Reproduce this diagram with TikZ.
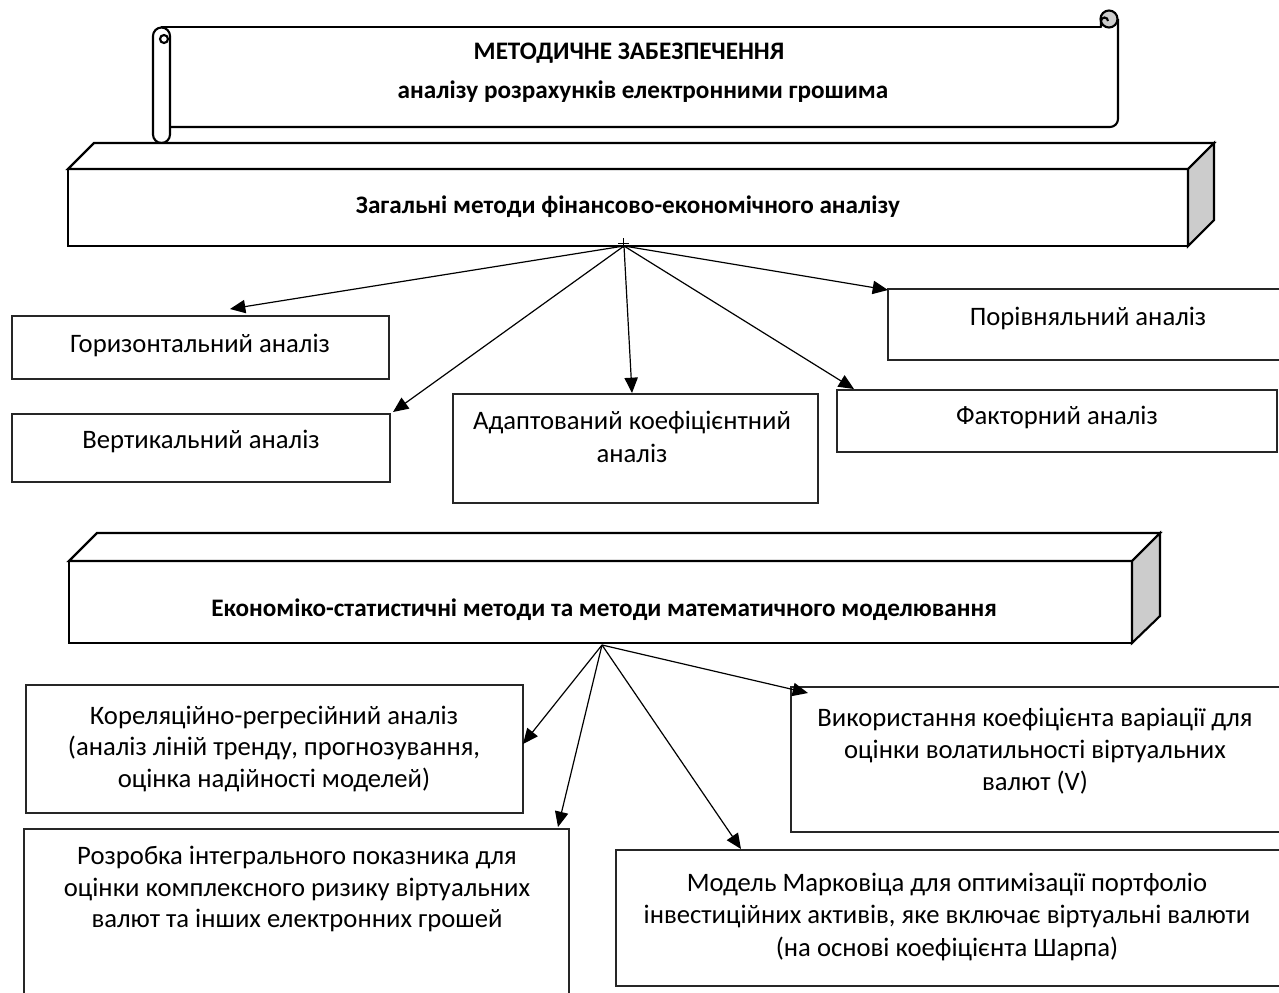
\documentclass[tikz,border=0pt]{standalone}
\usepackage{fontspec}
\setmainfont{Carlito}
\usetikzlibrary{arrows.meta,fit}
\begin{document}
\begin{tikzpicture}[x=0.75pt,y=-0.75pt]
\tikzset{
  heavy/.style={line width=1.6pt, line join=miter},
  sidefill/.style={fill=black!20},
  plainbox/.style={draw=black!85, line width=0.9pt, rectangle, inner sep=0pt},
  txt/.style={font=\fontsize{20}{23.6}\selectfont, align=center, inner sep=0pt},
  txtw/.style={font=\fontsize{20}{24.2}\selectfont, align=center, inner sep=0pt},
  ttl/.style={font=\bfseries\fontsize{18.9}{22}\selectfont, inner sep=0pt},
  arr/.style={line width=0.9pt, -{Triangle[length=11.5pt,width=10pt]}},
}
\useasboundingbox (0,0) rectangle (1279,993);

% ---------- scroll banner ----------
\draw[heavy, line cap=round] (161.5,27) -- (1101,27);
\draw[heavy] (153,36) -- (153,134.5) arc(180:0:8.5) -- (170,36) arc(0:-180:8.5);
\draw[heavy] (164,39) circle (4);
\draw[heavy] (170,127) -- (1110,127) arc(90:0:8) -- (1118,19);
\draw[heavy, sidefill] (1109,19) circle (8.5);
\draw[heavy] (1101,27) -- (1101,21) arc(180:360:3.5);
\node[ttl] (t1) at (629,53) {МЕТОДИЧНЕ ЗАБЕЗПЕЧЕННЯ};
\node[ttl] (t2) at (643,92) {аналізу розрахунків електронними грошима};

% ---------- 3D box 1 ----------
\draw[heavy, fill=white] (68,169) -- (94,143) -- (1214,143) -- (1188,169) -- cycle;
\draw[heavy, sidefill] (1188,169) -- (1214,143) -- (1214,220) -- (1188,246) -- cycle;
\node[heavy, draw, fit={(68,169)(1188,246)}, inner sep=0pt] (g1) {};
\node[ttl] (g1t) at (628,207) {Загальні методи фінансово-економічного аналізу};

% ---------- first group boxes ----------
\node[plainbox, fit={(12,316)(389,379)}] (hor) {};
\node[txt] at (200,345) {Горизонтальний аналіз};
\node[plainbox, fit={(12,414)(390,482)}] (ver) {};
\node[txt] at (201,441) {Вертикальний аналіз};
\node[plainbox, fit={(453,394)(818,503)}] (ada) {};
\node[txtw] at (632,437) {Адаптований коефіцієнтний\\аналіз};
\node[plainbox, fit={(837,390)(1277,452)}] (fak) {};
\node[txt] at (1057,417) {Факторний аналіз};
\node[plainbox, fit={(888,289)(1284,360)}] (por) {};
\node[txt] at (1088,318) {Порівняльний аналіз};

\coordinate (o1) at (624,246);
\draw[line width=0.6pt] (618,243) -- (629,243) (623.5,238) -- (623.5,248);
\coordinate (hortip) at (230,309);
\coordinate (vertip) at (393,412);
\coordinate (adatip) at (632,393);
\coordinate (faktip) at (854,389);
\coordinate (portip) at (888,290);
\draw[arr] (o1) -- (hortip);
\draw[arr] (o1) -- (vertip);
\draw[arr] (o1) -- (adatip);
\draw[arr] (o1) -- (faktip);
\draw[arr] (o1) -- (portip);

% ---------- 3D box 2 ----------
\draw[heavy, fill=white] (69,561) -- (97,533) -- (1160,533) -- (1132,561) -- cycle;
\draw[heavy, sidefill] (1132,561) -- (1160,533) -- (1160,616) -- (1132,643) -- cycle;
\node[heavy, draw, fit={(69,561)(1132,643)}, inner sep=0pt] (g2) {};
\node[ttl] (g2t) at (604,610) {Економіко-статистичні методи та методи математичного моделювання};

% ---------- second group boxes ----------
\node[plainbox, fit={(26,685)(523,813)}] (kor) {};
\node[txt] at (274,749) {Кореляційно-регресійний аналіз\\(аналіз ліній тренду, прогнозування,\\оцінка надійності моделей)};
\node[plainbox, fit={(24,829)(569,1000)}] (roz) {};
\node[txt] at (297,889) {Розробка інтегрального показника для\\оцінки комплексного ризику віртуальних\\валют та інших електронних грошей};
\node[plainbox, fit={(791,687)(1284,832)}] (vyk) {};
\node[txtw] at (1035,751) {Використання коефіцієнта варіації для\\оцінки волатильності віртуальних\\валют (V)};
\node[plainbox, fit={(616,850)(1284,986)}] (mod) {};
\node[txtw] at (947,917) {Модель Марковіца для оптимізації портфоліо\\інвестиційних активів, яке включає віртуальні валюти\\(на основі коефіцієнта Шарпа)};

\coordinate (o2) at (602,645);
\coordinate (kortip) at (523,744);
\coordinate (roztip) at (558,827);
\coordinate (vyktip) at (808,693);
\coordinate (modtip) at (741,849);
\draw[arr] (o2) -- (kortip);
\draw[arr] (o2) -- (roztip);
\draw[arr] (o2) -- (vyktip);
\draw[arr] (o2) -- (modtip);
\end{tikzpicture}
\end{document}
